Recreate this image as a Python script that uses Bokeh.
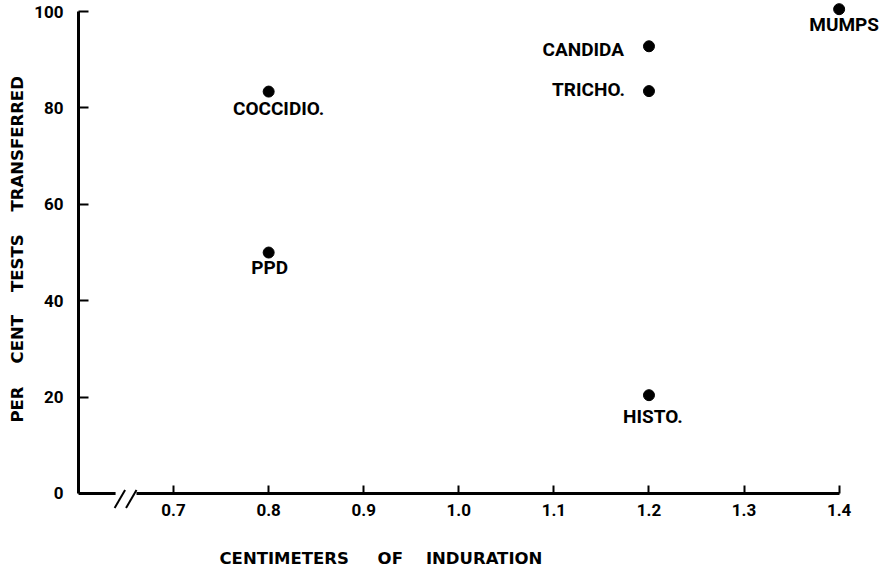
from bokeh.plotting import figure
from bokeh.models import FixedTicker, PrintfTickFormatter, Title, Range1d, ColumnDataSource
from bokeh.core.properties import value
from bokeh.embed import file_html
from bokeh.resources import INLINE

# ---- data ----
tests = ["COCCIDIO.", "PPD", "CANDIDA", "TRICHO.", "HISTO.", "MUMPS"]
induration_cm = [0.8, 0.8, 1.2, 1.2, 1.2, 1.4]
pct_transferred = [83.4, 50.0, 92.8, 83.5, 20.4, 100.5]
x_ticks = [0.7, 0.8, 0.9, 1.0, 1.1, 1.2, 1.3, 1.4]
y_ticks = [0, 20, 40, 60, 80, 100]

FONT = "Roboto"
AX_FONT = "DejaVu Sans"
NB = "\u00a0"

# label placement (style only): which side, offsets in px
side = {"COCCIDIO.": "below", "PPD": "below", "HISTO.": "below", "MUMPS": "below",
        "CANDIDA": "left", "TRICHO.": "left"}
dx = {"COCCIDIO.": 10, "PPD": 1, "HISTO.": 4, "MUMPS": 5, "CANDIDA": -25, "TRICHO.": -24}
dy = {"COCCIDIO.": 17, "PPD": 15, "HISTO.": 21, "MUMPS": 15, "CANDIDA": 3, "TRICHO.": -2}

p = figure(width=880, height=567, output_backend="svg", toolbar_location=None,
           x_range=Range1d(0.6, 1.4435), y_range=Range1d(-11.0, 102.3),
           min_border_left=77, min_border_right=0, min_border_top=0, min_border_bottom=0)
p.outline_line_color = None
p.grid.visible = False
p.background_fill_color = "white"

# axes
xa = p.xaxis[0]
xa.fixed_location = 0
xa.bounds = (0.661, 1.4)
xa.ticker = FixedTicker(ticks=x_ticks)
xa.formatter = PrintfTickFormatter(format="%.1f")
xa.major_tick_in = 8
xa.major_tick_out = 0
xa.minor_tick_line_color = None
xa.axis_line_width = 3
xa.major_tick_line_width = 2
xa.major_label_standoff = 11
xa.major_label_text_font = FONT
xa.major_label_text_font_style = "bold"
xa.major_label_text_font_size = "17px"
xa.major_label_text_color = "black"

ya = p.yaxis[0]
ya.bounds = (0, 100)
ya.ticker = FixedTicker(ticks=y_ticks)
ya.major_tick_in = 10
ya.major_tick_out = 0
ya.minor_tick_line_color = None
ya.axis_line_width = 3
ya.major_tick_line_width = 2
ya.major_label_standoff = 15
ya.major_label_text_font = FONT
ya.major_label_text_font_style = "bold"
ya.major_label_text_font_size = "17px"
ya.major_label_text_color = "black"

yt = Title(text="PER" + NB * 4 + "CENT" + NB * 4 + "TESTS" + NB * 4 + "TRANSFERRED",
           align="left", offset=124, text_font=AX_FONT, text_font_style="bold",
           text_font_size="16.5px", text_color="black", standoff=10)
p.add_layout(yt, "left")

# axis break: short left piece of x axis and the "//" marks
BRK_L, BRK_R = 0.639, 0.661
p.segment(x0=[0.6], y0=[0], x1=[BRK_L], y1=[0], line_width=3, line_color="black")
p.segment(x0=[BRK_L - 0.001, BRK_L + 0.011], y0=[-3.0, -3.0],
          x1=[BRK_L + 0.010, BRK_L + 0.022], y1=[0.7, 0.7],
          line_width=2, line_color="black")

src = ColumnDataSource(dict(x=induration_cm, y=pct_transferred))
p.scatter("x", "y", source=src, size=11, color="black")


def subset(which):
    idx = [i for i, t in enumerate(tests) if side[t] == which]
    return ColumnDataSource(dict(x=[induration_cm[i] for i in idx],
                                 y=[pct_transferred[i] for i in idx],
                                 name=[tests[i] for i in idx],
                                 dx=[dx[tests[i]] for i in idx],
                                 dy=[dy[tests[i]] for i in idx]))


p.text("x", "y", text="name", source=subset("below"), x_offset="dx", y_offset="dy",
       text_align="center", text_baseline="middle", text_font=value(FONT),
       text_font_style="bold", text_font_size="19px", text_color="black")
p.text("x", "y", text="name", source=subset("left"), x_offset="dx", y_offset="dy",
       text_align="right", text_baseline="middle", text_font=value(FONT),
       text_font_style="bold", text_font_size="19px", text_color="black")

xt = Title(text="CENTIMETERS" + NB * 5 + "OF" + NB * 4 + "INDURATION", align="left", offset=141,
           text_font=AX_FONT, text_font_style="bold", text_font_size="16.5px",
           text_color="black", standoff=0)
p.add_layout(xt, "below")

open("out.html", "w").write(file_html(p, INLINE))
